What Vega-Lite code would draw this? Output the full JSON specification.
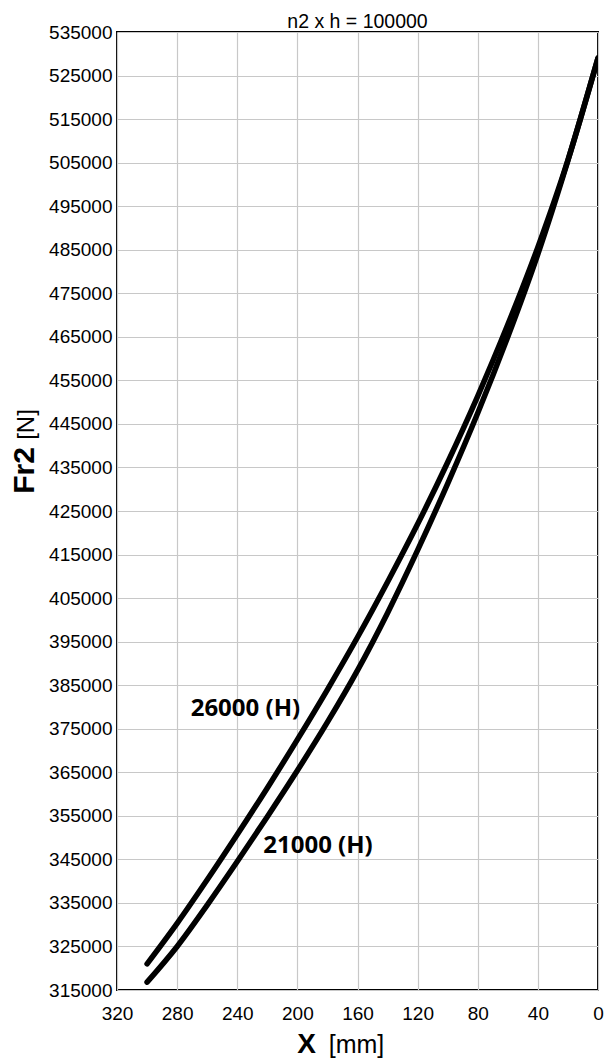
{
  "$schema": "https://vega.github.io/schema/vega-lite/v6.json",
  "width": 481,
  "height": 958,
  "autosize": {"type": "none"},
  "padding": {"left": 117, "top": 32, "right": 8, "bottom": 74},
  "background": "white",
  "title": {"text": "n2 x h = 100000", "fontSize": 19.5, "fontWeight": "normal", "font": "Liberation Sans", "color": "black", "offset": 6, "dy": 15, "anchor": "middle"},
  "config": {
    "font": "Liberation Sans",
    "view": {"stroke": "black", "strokeWidth": 2},
    "axis": {"gridColor": "#c8c8c8", "gridWidth": 1.2, "ticks": false, "domain": false, "labelFontSize": 19, "labelColor": "black", "titleColor": "black", "labelFont": "Liberation Sans", "titleFont": "Liberation Sans"}
  },
  "datasets": {
    "curves": [
      {"series": "26000", "X": 0, "Fr2": 529000},
      {"series": "26000", "X": 20, "Fr2": 505600},
      {"series": "26000", "X": 40, "Fr2": 485600},
      {"series": "26000", "X": 60, "Fr2": 467800},
      {"series": "26000", "X": 80, "Fr2": 451400},
      {"series": "26000", "X": 100, "Fr2": 436200},
      {"series": "26000", "X": 120, "Fr2": 422000},
      {"series": "26000", "X": 140, "Fr2": 408700},
      {"series": "26000", "X": 160, "Fr2": 396000},
      {"series": "26000", "X": 180, "Fr2": 384000},
      {"series": "26000", "X": 200, "Fr2": 372500},
      {"series": "26000", "X": 220, "Fr2": 361400},
      {"series": "26000", "X": 240, "Fr2": 350700},
      {"series": "26000", "X": 260, "Fr2": 340300},
      {"series": "26000", "X": 280, "Fr2": 330300},
      {"series": "26000", "X": 300, "Fr2": 321000},
      {"series": "21000", "X": 0, "Fr2": 529000},
      {"series": "21000", "X": 20, "Fr2": 505500},
      {"series": "21000", "X": 40, "Fr2": 484000},
      {"series": "21000", "X": 60, "Fr2": 465000},
      {"series": "21000", "X": 80, "Fr2": 447500},
      {"series": "21000", "X": 100, "Fr2": 431300},
      {"series": "21000", "X": 120, "Fr2": 416000},
      {"series": "21000", "X": 140, "Fr2": 401600},
      {"series": "21000", "X": 160, "Fr2": 388400},
      {"series": "21000", "X": 180, "Fr2": 376500},
      {"series": "21000", "X": 200, "Fr2": 365400},
      {"series": "21000", "X": 220, "Fr2": 354800},
      {"series": "21000", "X": 240, "Fr2": 344500},
      {"series": "21000", "X": 260, "Fr2": 334500},
      {"series": "21000", "X": 280, "Fr2": 325000},
      {"series": "21000", "X": 300, "Fr2": 316800}
    ],
    "labels": [
      {"label": "26000 (H)", "X": 271, "Fr2": 378000},
      {"label": "21000 (H)", "X": 222.7, "Fr2": 346500}
    ]
  },
  "layer": [
    {
      "data": {"name": "curves"},
      "mark": {"type": "line", "strokeWidth": 5.5, "color": "black", "interpolate": "monotone", "strokeCap": "round", "clip": true},
      "encoding": {
        "x": {"field": "X", "type": "quantitative", "scale": {"domain": [0, 320], "reverse": true, "nice": false, "zero": false},
          "axis": {"orient": "bottom", "values": [0, 40, 80, 120, 160, 200, 240, 280, 320], "labelFlush": false, "labelPadding": 14, "grid": true,
            "title": "X", "titleFontSize": 28, "titleFontWeight": "bold", "titleX": 189, "titleY": 62, "titleAlign": "center", "titleBaseline": "alphabetic", "titleAngle": 0}},
        "y": {"field": "Fr2", "type": "quantitative", "scale": {"domain": [315000, 535000], "nice": false, "zero": false},
          "axis": {"orient": "left", "values": [315000, 325000, 335000, 345000, 355000, 365000, 375000, 385000, 395000, 405000, 415000, 425000, 435000, 445000, 455000, 465000, 475000, 485000, 495000, 505000, 515000, 525000, 535000], "format": "d", "labelFlush": false, "labelPadding": 5, "grid": true,
            "title": "Fr2", "titleFontSize": 30, "titleFontWeight": "bold", "titleX": -84, "titleY": 438, "titleAngle": 270, "titleAlign": "center", "titleBaseline": "alphabetic"}},
        "detail": {"field": "series"}
      }
    },
    {
      "data": {"name": "labels"},
      "mark": {"type": "text", "font": "Open Sans", "fontWeight": "bold", "fontSize": 24, "align": "left", "baseline": "alphabetic", "color": "black"},
      "encoding": {
        "x": {"field": "X", "type": "quantitative", "scale": {"domain": [0, 320], "reverse": true, "nice": false, "zero": false},
          "axis": {"orient": "top", "labels": false, "ticks": false, "domain": false, "grid": false,
            "title": "[mm]", "titleFontSize": 25, "titleFontWeight": "normal", "titleX": 239, "titleY": 1020, "titleAlign": "center", "titleBaseline": "alphabetic", "titleAngle": 0}},
        "y": {"field": "Fr2", "type": "quantitative", "scale": {"domain": [315000, 535000], "nice": false, "zero": false},
          "axis": {"orient": "right", "labels": false, "ticks": false, "domain": false, "grid": false,
            "title": "[N]", "titleFontSize": 24, "titleFontWeight": "normal", "titleX": -565, "titleY": 392, "titleAngle": 270, "titleAlign": "center", "titleBaseline": "alphabetic"}},
        "text": {"field": "label", "type": "nominal"}
      }
    }
  ],
  "resolve": {"axis": {"x": "independent", "y": "independent"}}
}
